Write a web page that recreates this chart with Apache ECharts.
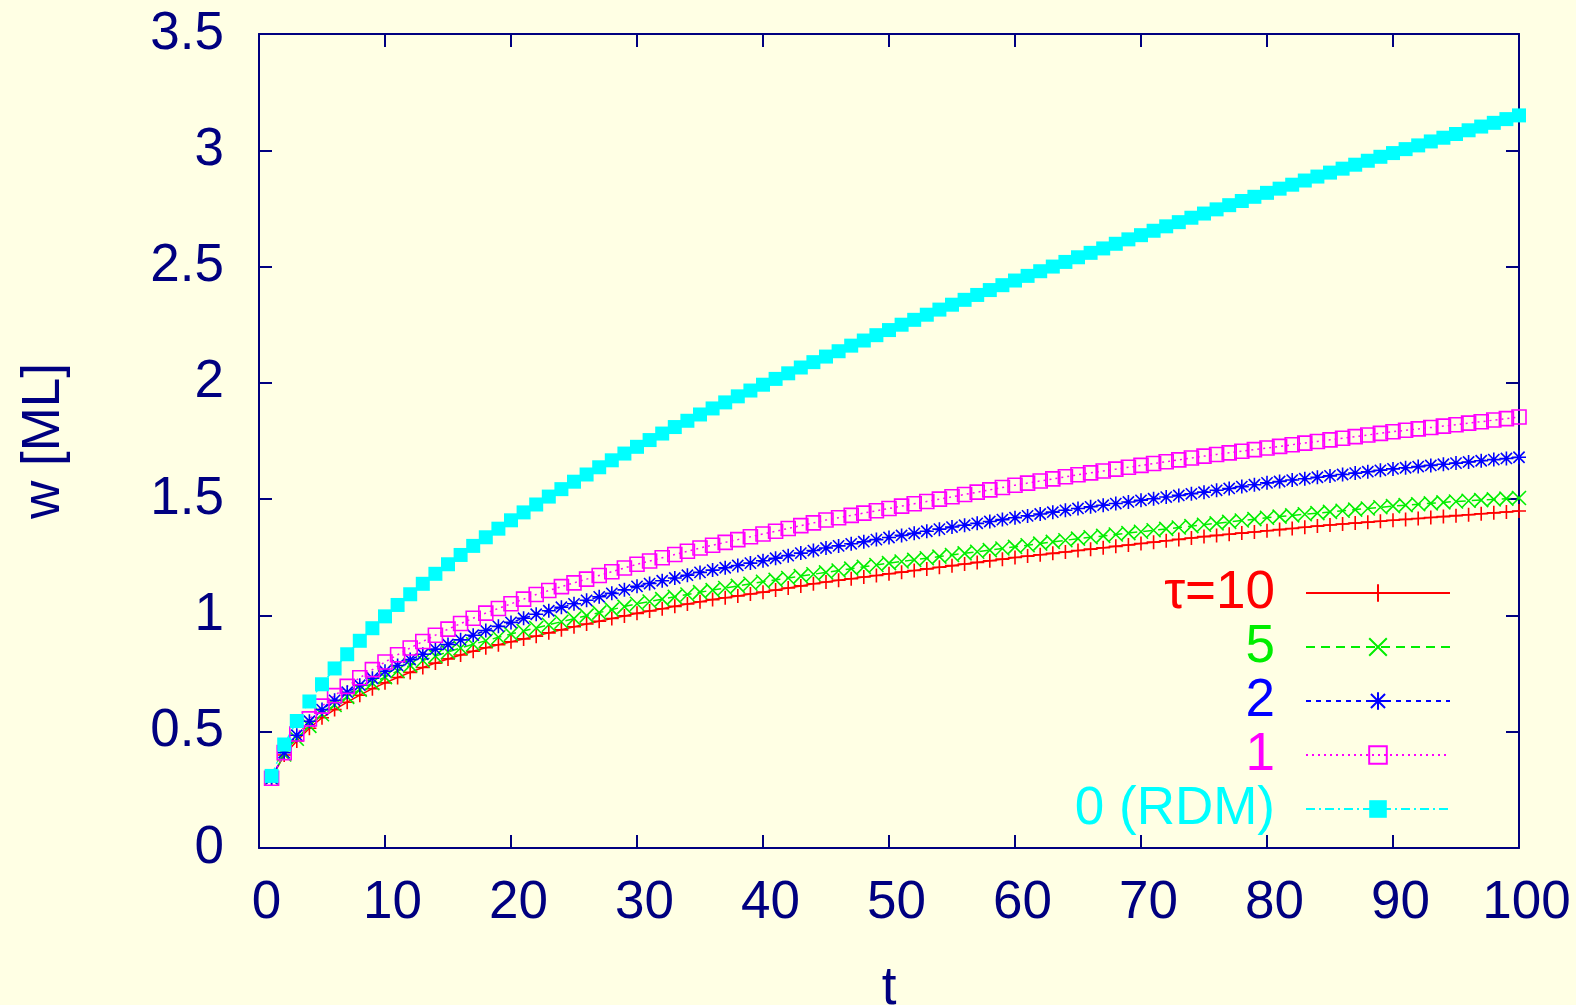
<!DOCTYPE html>
<html>
<head>
<meta charset="utf-8">
<script src="https://cdn.jsdelivr.net/npm/echarts@6/dist/echarts.min.js"></script>
<style>
  html, body { margin: 0; padding: 0; background: #ffffe4; }
  #chart { width: 1576px; height: 1005px; }
</style>
</head>
<body>
<div id="chart"></div>
<script>
// time steps t = 1 .. 100
const tValues = Array.from({ length: 100 }, (_, i) => i + 1);

// w [ML] for each delay tau
const wTau10 = [
  0.300, 0.400, 0.460, 0.515, 0.560, 0.595, 0.627, 0.657, 0.685, 0.710,
  0.733, 0.755, 0.776, 0.795, 0.813, 0.830, 0.846, 0.861, 0.874, 0.887,
  0.899, 0.911, 0.925, 0.938, 0.951, 0.963, 0.975, 0.987, 0.998, 1.009,
  1.019, 1.029, 1.039, 1.049, 1.059, 1.068, 1.076, 1.084, 1.092, 1.100,
  1.109, 1.118, 1.127, 1.136, 1.144, 1.151, 1.158, 1.165, 1.172, 1.179,
  1.186, 1.193, 1.200, 1.207, 1.214, 1.221, 1.228, 1.235, 1.242, 1.249,
  1.255, 1.261, 1.267, 1.273, 1.279, 1.285, 1.291, 1.297, 1.303, 1.309,
  1.315, 1.321, 1.327, 1.333, 1.339, 1.344, 1.349, 1.354, 1.359, 1.364,
  1.369, 1.374, 1.379, 1.384, 1.389, 1.393, 1.397, 1.401, 1.405, 1.409,
  1.413, 1.417, 1.421, 1.425, 1.429, 1.433, 1.437, 1.441, 1.445, 1.449
];
const wTau5 = [
  0.300, 0.402, 0.470, 0.525, 0.575, 0.615, 0.650, 0.681, 0.709, 0.735,
  0.761, 0.785, 0.806, 0.825, 0.843, 0.860, 0.876, 0.891, 0.906, 0.920,
  0.933, 0.946, 0.960, 0.973, 0.986, 0.999, 1.012, 1.025, 1.038, 1.050,
  1.060, 1.070, 1.080, 1.090, 1.100, 1.109, 1.118, 1.127, 1.136, 1.145,
  1.153, 1.161, 1.169, 1.177, 1.185, 1.193, 1.201, 1.209, 1.217, 1.225,
  1.232, 1.239, 1.246, 1.253, 1.260, 1.267, 1.274, 1.281, 1.288, 1.295,
  1.302, 1.309, 1.316, 1.323, 1.330, 1.336, 1.342, 1.348, 1.354, 1.360,
  1.366, 1.372, 1.378, 1.384, 1.390, 1.396, 1.402, 1.408, 1.414, 1.420,
  1.425, 1.430, 1.435, 1.440, 1.445, 1.450, 1.455, 1.460, 1.465, 1.470,
  1.474, 1.478, 1.482, 1.486, 1.490, 1.493, 1.496, 1.499, 1.502, 1.505
];
const wTau2 = [
  0.300, 0.410, 0.485, 0.545, 0.595, 0.635, 0.670, 0.700, 0.730, 0.760,
  0.785, 0.810, 0.833, 0.855, 0.875, 0.895, 0.915, 0.935, 0.953, 0.970,
  0.988, 1.005, 1.020, 1.035, 1.050, 1.065, 1.080, 1.095, 1.110, 1.125,
  1.137, 1.149, 1.161, 1.173, 1.185, 1.195, 1.205, 1.215, 1.225, 1.235,
  1.246, 1.257, 1.268, 1.279, 1.290, 1.299, 1.308, 1.317, 1.326, 1.335,
  1.344, 1.353, 1.362, 1.371, 1.380, 1.388, 1.396, 1.404, 1.412, 1.420,
  1.428, 1.436, 1.444, 1.452, 1.460, 1.467, 1.474, 1.481, 1.488, 1.495,
  1.502, 1.509, 1.516, 1.523, 1.530, 1.538, 1.546, 1.554, 1.562, 1.570,
  1.576, 1.582, 1.588, 1.594, 1.600, 1.606, 1.612, 1.618, 1.624, 1.630,
  1.635, 1.640, 1.645, 1.650, 1.655, 1.660, 1.665, 1.670, 1.675, 1.680
];
const wTau1 = [
  0.300, 0.410, 0.490, 0.555, 0.610, 0.655, 0.695, 0.732, 0.767, 0.800,
  0.831, 0.860, 0.888, 0.915, 0.941, 0.965, 0.988, 1.010, 1.030, 1.050,
  1.070, 1.090, 1.107, 1.124, 1.140, 1.156, 1.172, 1.188, 1.204, 1.220,
  1.234, 1.248, 1.262, 1.276, 1.290, 1.302, 1.314, 1.326, 1.338, 1.350,
  1.362, 1.374, 1.386, 1.398, 1.410, 1.420, 1.430, 1.440, 1.450, 1.460,
  1.470, 1.480, 1.490, 1.500, 1.510, 1.520, 1.530, 1.540, 1.550, 1.560,
  1.569, 1.578, 1.587, 1.596, 1.605, 1.613, 1.621, 1.629, 1.637, 1.645,
  1.653, 1.661, 1.669, 1.677, 1.685, 1.692, 1.699, 1.706, 1.713, 1.720,
  1.727, 1.734, 1.741, 1.748, 1.755, 1.762, 1.769, 1.776, 1.783, 1.790,
  1.796, 1.802, 1.808, 1.814, 1.820, 1.827, 1.833, 1.840, 1.846, 1.853
];
const wRDM = [
  0.310, 0.445, 0.546, 0.630, 0.704, 0.772, 0.833, 0.891, 0.945, 0.996,
  1.045, 1.091, 1.136, 1.179, 1.220, 1.260, 1.299, 1.336, 1.373, 1.409,
  1.443, 1.477, 1.511, 1.543, 1.575, 1.606, 1.637, 1.667, 1.696, 1.725,
  1.754, 1.782, 1.810, 1.837, 1.864, 1.890, 1.916, 1.942, 1.967, 1.992,
  2.017, 2.041, 2.066, 2.089, 2.113, 2.136, 2.160, 2.182, 2.205, 2.227,
  2.250, 2.271, 2.293, 2.315, 2.336, 2.357, 2.378, 2.399, 2.420, 2.440,
  2.460, 2.480, 2.500, 2.520, 2.540, 2.559, 2.578, 2.598, 2.617, 2.635,
  2.654, 2.673, 2.691, 2.710, 2.728, 2.746, 2.764, 2.782, 2.800, 2.817,
  2.835, 2.852, 2.870, 2.887, 2.904, 2.921, 2.938, 2.955, 2.972, 2.988,
  3.005, 3.021, 3.038, 3.054, 3.070, 3.086, 3.102, 3.118, 3.134, 3.150
];

const seriesNames = ['τ=10', '5', '2', '1', '0 (RDM)'];
const seriesColors = ['#ff0000', '#00ee00', '#0000ff', '#ff00ff', '#00ffff'];

const axisColor = '#000080';
const fontFamily = '"Liberation Sans", Arial, Helvetica, sans-serif';
const FS = 53;

// point markers in the style of gnuplot's point types
const plusPath = 'path://M0,-1L0,1M-1,0L1,0';
const crossPath = 'path://M-1,-1L1,1M-1,1L1,-1';
const starPath = 'path://M0,-1L0,1M-1,0L1,0M-0.8,-0.8L0.8,0.8M-0.8,0.8L0.8,-0.8';

function pairs(values) {
  return tValues.map((t, i) => [t, values[i]]);
}

function lineSeries(name, values, color, symbol, dash, itemStyle) {
  return {
    name: name,
    type: 'line',
    data: pairs(values),
    symbol: symbol,
    symbolSize: 14,
    showAllSymbol: true,
    lineStyle: { color: color, width: 1.5, type: dash },
    itemStyle: itemStyle,
    emphasis: { disabled: true },
    animation: false
  };
}

const series = [
  lineSeries(seriesNames[0], wTau10, seriesColors[0], plusPath, 'solid',
    { color: seriesColors[0], borderColor: seriesColors[0], borderWidth: 1.6 }),
  lineSeries(seriesNames[1], wTau5, seriesColors[1], crossPath, [9, 6],
    { color: seriesColors[1], borderColor: seriesColors[1], borderWidth: 1.6 }),
  lineSeries(seriesNames[2], wTau2, seriesColors[2], starPath, [5, 5],
    { color: seriesColors[2], borderColor: seriesColors[2], borderWidth: 1.6 }),
  lineSeries(seriesNames[3], wTau1, seriesColors[3], 'rect', [2, 4],
    { color: 'rgba(0,0,0,0)', borderColor: seriesColors[3], borderWidth: 1.6 }),
  lineSeries(seriesNames[4], wRDM, seriesColors[4], 'rect', [9, 4, 2, 4],
    { color: seriesColors[4], borderWidth: 0 })
];

const axisText = { color: axisColor, fontFamily: fontFamily, fontSize: FS };
const tickStyle = { show: true, inside: true, length: 13, lineStyle: { color: axisColor, width: 2 } };
const lineStyle = { show: true, onZero: false, lineStyle: { color: axisColor, width: 2 } };

const chart = echarts.init(document.getElementById('chart'), null, { renderer: 'canvas' });
chart.setOption({
  backgroundColor: '#ffffe4',
  animation: false,
  grid: {
    left: 259, right: 57, top: 34, bottom: 157,
    containLabel: false, outerBoundsMode: 'none'
  },
  xAxis: [
    {
      type: 'value', min: 0, max: 100, interval: 10, position: 'bottom',
      axisLine: lineStyle, axisTick: tickStyle, splitLine: { show: false },
      axisLabel: Object.assign({ margin: 29, padding: [0, 0, 0, 15] }, axisText),
      name: 't', nameLocation: 'middle', nameGap: 115,
      nameTextStyle: axisText
    },
    {
      type: 'value', min: 0, max: 100, interval: 10, position: 'top',
      axisLine: lineStyle, axisTick: tickStyle, splitLine: { show: false },
      axisLabel: { show: false }
    }
  ],
  yAxis: [
    {
      type: 'value', min: 0, max: 3.5, interval: 0.5, position: 'left',
      axisLine: lineStyle, axisTick: tickStyle, splitLine: { show: false },
      axisLabel: Object.assign({ margin: 35 }, axisText),
      name: 'w [ML]', nameLocation: 'middle', nameGap: 188, nameRotate: 90,
      nameTextStyle: axisText
    },
    {
      type: 'value', min: 0, max: 3.5, interval: 0.5, position: 'right',
      axisLine: lineStyle, axisTick: tickStyle, splitLine: { show: false },
      axisLabel: { show: false }
    }
  ],
  legend: {
    orient: 'vertical',
    right: 120,
    top: 561,
    align: 'right',
    itemWidth: 144,
    itemHeight: 22,
    itemGap: 0,
    selectedMode: false,
    textStyle: { fontFamily: fontFamily, fontSize: FS, lineHeight: 54, padding: [0, 26, 0, 0] },
    data: seriesNames.map((n, i) => ({ name: n, textStyle: { color: seriesColors[i] } }))
  },
  series: series
});
</script>
</body>
</html>
